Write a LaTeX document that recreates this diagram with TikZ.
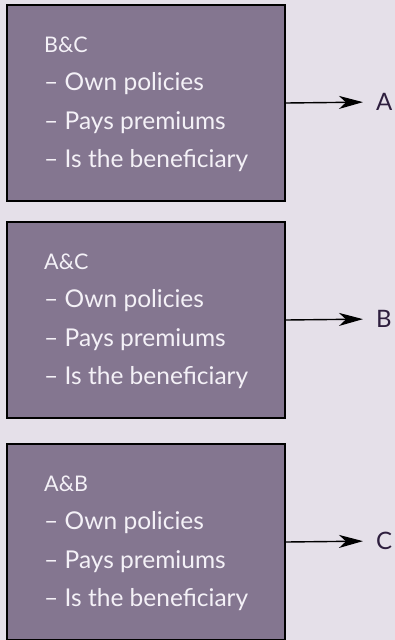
\documentclass[tikz,border=0pt]{standalone}
\usepackage{fontspec}
\setmainfont{Lato}
\usetikzlibrary{arrows.meta}

\definecolor{pagebg}{RGB}{229,224,233}
\definecolor{boxfill}{RGB}{132,118,144}
\definecolor{boxtext}{RGB}{244,241,247}
\definecolor{lbltext}{RGB}{46,30,62}

\tikzset{
  partybox/.style={draw=black, line width=2pt, fill=boxfill, minimum width=278pt,
    minimum height=196pt, inner sep=0pt, anchor=north west},
  headtext/.style={anchor=base west, inner sep=0pt, text=boxtext, font=\fontsize{21.5}{24}\selectfont},
  itemtext/.style={anchor=base west, inner sep=0pt, text=boxtext, font=\fontsize{24.5}{28}\selectfont},
  roletext/.style={anchor=west, inner sep=0pt, text=lbltext, font=\fontsize{24}{26}\selectfont},
  rolearrow/.style={line width=1.4pt, -{Stealth[length=24pt,width=13pt,inset=7pt]}, shorten >=13pt}
}

\begin{document}
\begin{tikzpicture}[x=1pt,y=-1pt]
  % Background
  \fill[pagebg] (0,0) rectangle (395,640);
  \useasboundingbox (0,0) rectangle (395,640);

  % Boxes, texts and arrows
  \foreach \top/\n/\pair/\role in {4/1/B\&C/A, 221/2/A\&C/B, 443/3/A\&B/C} {
    \node[partybox] (box\n) at (6,\top) {};
    \node[headtext] (head\n) at (44,\top+48.5) {\pair};
    \node[itemtext] (own\n) at (44,\top+86.5) {– Own policies};
    \node[itemtext] (pays\n) at (44,\top+125) {– Pays premiums};
    \node[itemtext] (ben\n) at (44,\top+163) {– Is the beneficiary};
    \node[roletext] (role\n) at (376,\top+98) {\role};
    \draw[rolearrow] (box\n.east) -- (role\n.west);
  }
\end{tikzpicture}
\end{document}
